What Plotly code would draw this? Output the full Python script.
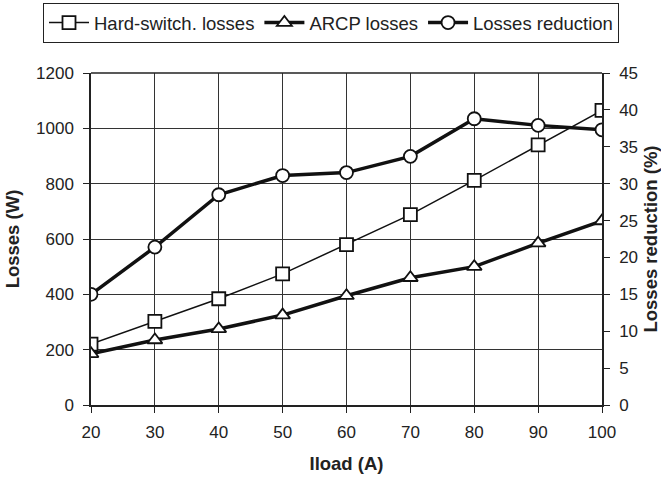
import plotly.graph_objects as go

iload = [20, 30, 40, 50, 60, 70, 80, 90, 100]
hard_switch = [220, 302, 384, 474, 580, 688, 812, 940, 1065]
arcp = [185, 235, 275, 325, 395, 460, 500, 585, 665]
reduction = [15.0, 21.4, 28.5, 31.1, 31.5, 33.7, 38.8, 37.9, 37.3]

FONT = "Liberation Sans, Arial, sans-serif"
mk = dict(color="white", size=13, line=dict(color="#111", width=1.8))

fig = go.Figure()
fig.add_trace(go.Scatter(x=iload, y=hard_switch, name="Hard-switch. losses", mode="lines+markers",
                         line=dict(color="#111", width=1.5), marker=dict(symbol="square", **mk)))
fig.add_trace(go.Scatter(x=iload, y=arcp, name="ARCP losses", mode="lines+markers",
                         line=dict(color="#111", width=3.5), marker=dict(symbol="triangle-up", **mk)))
fig.add_trace(go.Scatter(x=iload, y=reduction, name="Losses reduction", mode="lines+markers", yaxis="y2",
                         line=dict(color="#111", width=3.5), marker=dict(symbol="circle", **mk)))

fig.update_layout(
    width=661, height=477,
    margin=dict(l=91, r=59, t=73, b=72, autoexpand=False),
    paper_bgcolor="white", plot_bgcolor="white",
    font=dict(family=FONT, size=17, color="#222"),
    showlegend=True,
    legend=dict(orientation="h", x=(43 - 91) / 511, xanchor="left", y=1.0 + 70 / 332, yanchor="top",
                bordercolor="#222", borderwidth=1, font=dict(size=18.5), itemwidth=40,
                tracegroupgap=0),
    xaxis=dict(range=[20, 100], tickvals=iload, showgrid=True, gridcolor="#333", gridwidth=1,
               showline=True, linecolor="#222", linewidth=1.5, ticks="outside", ticklen=6,
               tickcolor="#222", zeroline=False, ticklabelstandoff=5, automargin=False,
               title=dict(text="<b>Iload (A)</b>", font=dict(size=18.5), standoff=16)),
    yaxis=dict(range=[0, 1200], dtick=200, showgrid=True, gridcolor="#333", gridwidth=1,
               showline=True, linecolor="#222", linewidth=1.5, ticks="outside", ticklen=6,
               tickcolor="#222", zeroline=False, ticklabelstandoff=6, automargin=False,
               title=dict(text="<b>Losses (W)</b>", font=dict(size=18.5), standoff=12)),
    yaxis2=dict(range=[0, 45], dtick=5, overlaying="y", side="right", showgrid=False,
                showline=True, linecolor="#222", linewidth=1.5, ticks="outside", ticklen=6,
                tickcolor="#222", zeroline=False, ticklabelstandoff=6, automargin=False,
                title=dict(text="<b>Losses reduction (%)</b>", font=dict(size=18.5), standoff=10)),
)
fig.add_shape(type="line", xref="paper", yref="paper", x0=0, x1=1, y0=1, y1=1,
              line=dict(color="#222", width=1.5))

fig.write_html("out.html")
